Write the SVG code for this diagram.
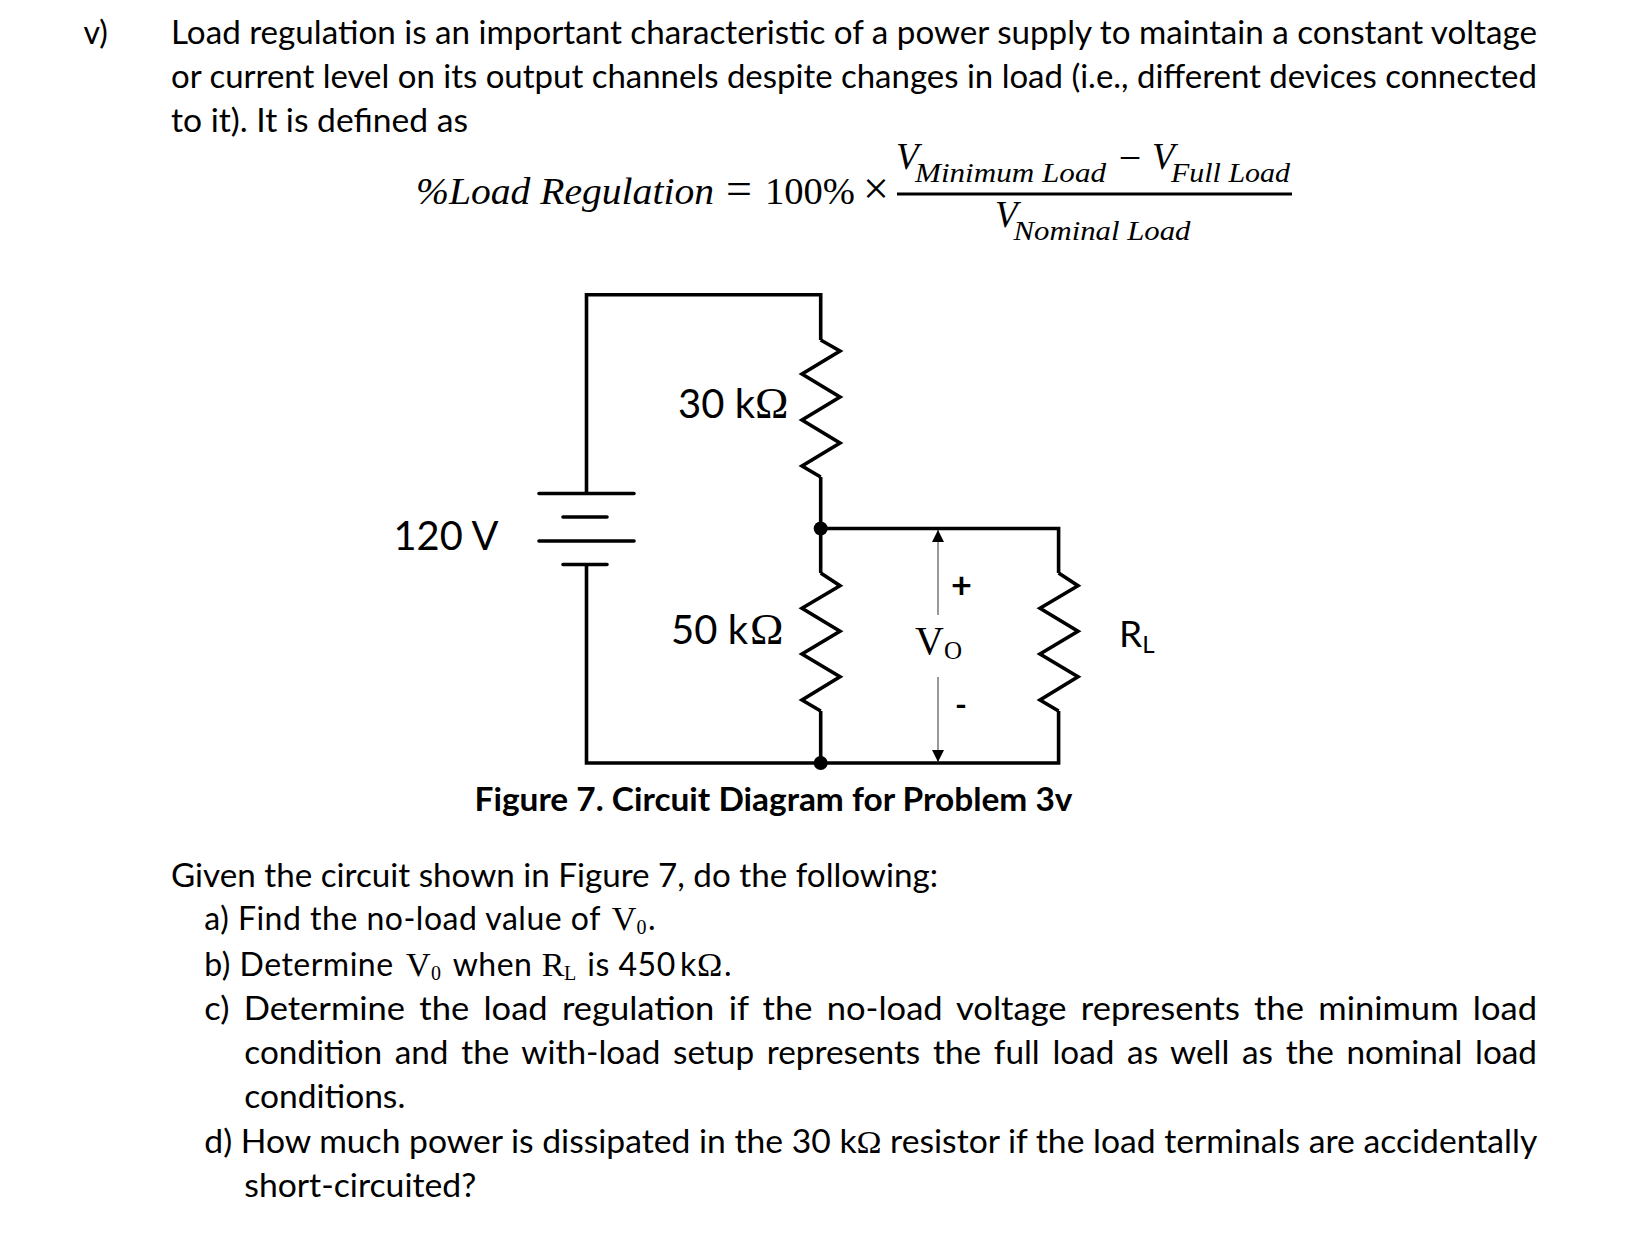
<svg xmlns="http://www.w3.org/2000/svg" width="1634" height="1233" viewBox="0 0 1634 1233">
<style>
.t{font-family:"Lato","Liberation Sans",sans-serif;font-size:32px;fill:#000}
.b{font-weight:700}
.l{letter-spacing:.5px}
.s{font-family:"Liberation Serif",serif}
.v{font-size:34px}
.z{font-size:20px}
.c{font-size:40px}
.m{font-family:"Liberation Serif",serif;font-size:37px;font-style:italic;fill:#000}
.n{font-family:"Liberation Serif",serif;font-size:37px;fill:#000}
.o{font-size:46px}
.u{font-family:"Liberation Serif",serif;font-size:27px;font-style:italic;fill:#000}
.w{fill:none;stroke:#000;stroke-width:3.6;stroke-linejoin:miter}
.p{fill:none;stroke:#000;stroke-width:3.6;stroke-linecap:round}
.a{fill:none;stroke:#333;stroke-width:1}
.d{fill:#000}
</style>
<defs>
<marker id="ah" markerWidth="12" markerHeight="12" refX="12" refY="6" orient="auto" markerUnits="userSpaceOnUse"><path d="M0 0L12 6L0 12z" fill="#000"/></marker>
</defs>
<rect width="1634" height="1233" fill="#fff"/>
<g id="text-top">
<text class="t" x="83.5" y="44">v)</text>
<text class="t" x="171" y="44" textLength="1366" lengthAdjust="spacingAndGlyphs">Load regulation is an important characteristic of a power supply to maintain a constant voltage</text>
<text class="t" x="171" y="87.5" textLength="1366" lengthAdjust="spacingAndGlyphs">or current level on its output channels despite changes in load (i.e., different devices connected</text>
<text class="t" x="171" y="131.5" textLength="297" lengthAdjust="spacingAndGlyphs">to it). It is defined as</text>
</g>
<g id="equation">
<text class="m" x="416" y="204" textLength="298" lengthAdjust="spacingAndGlyphs">%Load Regulation</text>
<text class="n o" x="739" y="204" text-anchor="middle">=</text>
<text class="n" x="765" y="204" textLength="90" lengthAdjust="spacingAndGlyphs">100%</text>
<text class="n o" x="876" y="204" text-anchor="middle">×</text>
<text class="m" x="896" y="169">V</text>
<text class="u" x="915" y="181.7" textLength="191" lengthAdjust="spacingAndGlyphs">Minimum Load</text>
<text class="n" x="1130" y="171" text-anchor="middle" style="font-size:40px">−</text>
<text class="m" x="1152" y="169">V</text>
<text class="u" x="1171" y="181.7" textLength="119" lengthAdjust="spacingAndGlyphs">Full Load</text>
<rect x="897" y="192.5" width="395" height="3" fill="#000"/>
<text class="m" x="995" y="226.7">V</text>
<text class="u" x="1013.5" y="240" textLength="177" lengthAdjust="spacingAndGlyphs">Nominal Load</text>
</g>
<g id="connectors">
<path class="w" d="M586.5 493V294.7H820.7V340"/>
<path class="w" d="M586.5 564V763H1058.6V711"/>
<path class="w" d="M820.7 477V573"/>
<path class="w" d="M820.7 528.5H1058.6V573"/>
<path class="w" d="M820.7 711V763"/>
<path class="a" d="M938 615V530" marker-end="url(#ah)"/>
<path class="a" d="M938 677V762" marker-end="url(#ah)"/>
</g>
<g id="r30"><path class="w" d="M820.7 340L840 351L802 374L840 397L802 420L840 443L802 466L820.7 477"/><text class="t c" x="678" y="417.7">30 k<tspan class="s" x="755" style="font-size:45px">Ω</tspan></text></g>
<g id="r50"><path class="w" d="M820.7 573L840 585.7L802 608.3L840 631.3L802 654L840 676.7L802 700L820.7 711"/><text class="t c" x="671" y="644">50 k<tspan class="s" x="750" style="font-size:45px">Ω</tspan></text></g>
<g id="rl"><path class="w" d="M1058.6 573L1078 585.7L1040 608.3L1078 631.3L1040 654L1078 676.7L1040 700L1058.6 711"/><text class="t" x="1119" y="647" style="font-size:37px">R<tspan dy="6" style="font-size:24px">L</tspan></text></g>
<g id="battery">
<path class="p" d="M539 493.5H634M563 517H607M539 541H634M563 564.5H607"/>
<text class="t c" x="393.5" y="550" textLength="105" lengthAdjust="spacingAndGlyphs">120 V</text>
</g>
<g id="node-a"><circle class="d" cx="820.7" cy="528.5" r="7"/></g>
<g id="node-b"><circle class="d" cx="820.7" cy="763" r="7"/></g>
<g id="vo">
<text class="t" x="961.5" y="597.5" text-anchor="middle" style="font-size:36px;font-weight:700">+</text>
<text class="t b" x="961" y="716" text-anchor="middle">-</text>
<text class="n" x="915" y="653.5" style="font-size:40px">V<tspan dy="5" style="font-size:25px">O</tspan></text>
</g>
<text class="t b" x="474.5" y="810.5" textLength="598" lengthAdjust="spacingAndGlyphs">Figure 7. Circuit Diagram for Problem 3v</text>
<g id="text-bottom">
<text class="t" x="171" y="886.5" textLength="767" lengthAdjust="spacingAndGlyphs">Given the circuit shown in Figure 7, do the following:</text>
<text class="t l" x="204.3" y="930">a) Find the no-load value of <tspan class="s v" x="611.7">V</tspan><tspan class="s z" x="636.5" dy="4">0</tspan><tspan x="648" dy="-4">.</tspan></text>
<text class="t l" x="204.3" y="976">b) Determine <tspan class="s v" x="406">V</tspan><tspan class="s z" x="431" dy="4">0</tspan><tspan x="452.7" dy="-4">when</tspan><tspan class="s v" x="541.7">R</tspan><tspan class="s z" x="564" dy="4">L</tspan><tspan x="587.3" dy="-4">is 450</tspan><tspan x="680">k</tspan><tspan class="s v" x="697">Ω</tspan><tspan x="724">.</tspan></text>
<text class="t" x="204.3" y="1020" textLength="1332.7" lengthAdjust="spacingAndGlyphs" style="word-spacing:5px">c) Determine the load regulation if the no-load voltage represents the minimum load</text>
<text class="t" x="244.3" y="1063.5" textLength="1292.7" lengthAdjust="spacingAndGlyphs" style="word-spacing:4px">condition and the with-load setup represents the full load as well as the nominal load</text>
<text class="t" x="244.3" y="1107.5" textLength="161" lengthAdjust="spacingAndGlyphs">conditions.</text>
<text class="t" x="204.3" y="1152.7" textLength="1333" lengthAdjust="spacingAndGlyphs">d) How much power is dissipated in the 30 k<tspan class="s">Ω</tspan> resistor if the load terminals are accidentally</text>
<text class="t" x="244.3" y="1196.7" textLength="232" lengthAdjust="spacingAndGlyphs">short-circuited?</text>
</g>
</svg>
